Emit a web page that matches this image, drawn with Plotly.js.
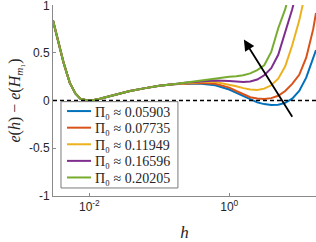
<!DOCTYPE html>
<html>
<head>
<meta charset="utf-8">
<script src="https://cdn.plot.ly/plotly-3.0.1.min.js"></script>
<style>html,body{margin:0;padding:0;background:#fff;}#chart{width:316px;height:242px;}</style>
</head>
<body>
<div id="chart"></div>
<script>
// h values (log-spaced samples)
const h = [0.00302, 0.00339, 0.00380, 0.00427, 0.00479, 0.00525, 0.00631, 0.00741, 0.00912, 0.0112,
           0.0141, 0.0200, 0.0251, 0.0380, 0.0631, 0.1, 0.158, 0.251, 0.398, 0.631,
           1.0, 1.259, 1.585, 1.995, 2.512, 3.162, 3.981, 5.012, 6.310, 7.943,
           10.0, 12.59, 15.85, 17.38];

const common = [0.84, 0.69, 0.545, 0.40, 0.28, 0.185, 0.075, 0.02, 0.002, 0.003,
                0.018, 0.045, 0.065, 0.10, 0.13, 0.155, 0.17];

const eBlue   = common.concat([0.178, 0.175, 0.16, 0.115, 0.08, 0.045, 0.008, -0.02, -0.038, -0.048, -0.045, -0.025, 0.02, 0.10, 0.24, 0.44, 0.53]);
const eOrange = common.concat([0.18, 0.185, 0.175, 0.135, 0.10, 0.07, 0.035, 0.02, 0.015, 0.025, 0.05, 0.10, 0.175, 0.27, 0.45, 0.75, 0.92]);
const eYellow = common.concat([0.185, 0.195, 0.195, 0.17, 0.15, 0.13, 0.115, 0.11, 0.125, 0.16, 0.23, 0.36, 0.58, 0.84, 1.12, 1.5, null]);
const ePurple = common.concat([0.19, 0.20, 0.21, 0.205, 0.20, 0.195, 0.20, 0.22, 0.265, 0.34, 0.48, 0.71, 0.96, 1.25, 1.6, null, null]);
const eGreen  = common.concat([0.19, 0.21, 0.235, 0.25, 0.255, 0.265, 0.285, 0.32, 0.37, 0.51, 0.76, 0.96, 1.25, null, null, null, null]);

const seriesNames = ['Π₀ ≈ 0.05903', 'Π₀ ≈ 0.07735', 'Π₀ ≈ 0.11949', 'Π₀ ≈ 0.16596', 'Π₀ ≈ 0.20205'];
const seriesValues = [eBlue, eOrange, eYellow, ePurple, eGreen];
const colors = ['#0072BD', '#D95319', '#EDB120', '#7E2F8E', '#77AC30'];

const xTickVals = [0.01, 1];
const xTickText = ['10<sup>-2</sup>', '10<sup>0</sup>'];
const yTickVals = [-1, -0.5, 0, 0.5, 1];
const yTickText = ['-1', '-0.5', '0', '0.5', '1'];

// arrow (tail -> head), in data coordinates (h, e)
const arrowTail = [8.2, -0.186];
const arrowHead = [1.62, 0.64];

const traces = seriesValues.map((v, i) => ({
  x: h, y: v, type: 'scatter', mode: 'lines', name: seriesNames[i],
  line: {color: colors[i], width: 2, shape: 'linear'},
  connectgaps: false
}));

const axisColor = '#8a8a8a';
const tickFont = {family: 'Liberation Sans, Arial, sans-serif', size: 12, color: '#262626'};

const layout = {
  width: 316, height: 242,
  margin: {l: 53, r: 0, t: 5, b: 46},
  paper_bgcolor: '#fff', plot_bgcolor: '#fff',
  showlegend: true,
  legend: {
    x: 0.0304, y: 0.497, xanchor: 'left', yanchor: 'top',
    bgcolor: 'rgba(0,0,0,0)', borderwidth: 0,
    font: {family: 'Liberation Serif, DejaVu Serif, serif', size: 14, color: '#262626'},
    tracegroupgap: 0, itemwidth: 30
  },
  xaxis: {
    type: 'log', range: [Math.log10(0.00302), Math.log10(17.38)],
    showgrid: false, zeroline: false,
    showline: true, linecolor: axisColor, linewidth: 1, mirror: false,
    ticks: 'inside', ticklen: 3, tickcolor: axisColor,
    tickvals: xTickVals, ticktext: xTickText, tickfont: tickFont,
    title: {text: '<i>h</i>', font: {family: 'Liberation Serif, DejaVu Serif, serif', size: 17, color: '#262626'}, standoff: 12}
  },
  yaxis: {
    range: [-1.004, 1.004],
    showgrid: false, zeroline: false,
    showline: true, linecolor: axisColor, linewidth: 1, mirror: false,
    ticks: 'inside', ticklen: 3, tickcolor: axisColor,
    tickvals: yTickVals, ticktext: yTickText, tickfont: tickFont,
    ticklabeloverflow: 'allow',
    title: {text: '<i>e</i>(<i>h</i>) − <i>e</i>(<i>H</i><sub><i>m</i>₁</sub>)', font: {family: 'Liberation Serif, DejaVu Serif, serif', size: 16, color: '#262626'}, standoff: 4}
  },
  shapes: [{
    type: 'line', xref: 'paper', x0: 0, x1: 1, yref: 'y', y0: 0, y1: 0,
    line: {color: '#000', width: 1.5, dash: '4px,3px'}, layer: 'above'
  }, {
    // legend frame
    type: 'rect', xref: 'paper', yref: 'paper',
    x0: 0.0304, x1: 0.475, y0: 0.042, y1: 0.494,
    fillcolor: '#ffffff', line: {color: '#7a7a7a', width: 1}, layer: 'above'
  }],
  annotations: [{
    xref: 'x', yref: 'y', axref: 'x', ayref: 'y',
    x: Math.log10(arrowHead[0]), y: arrowHead[1],
    ax: Math.log10(arrowTail[0]), ay: arrowTail[1],
    text: '', showarrow: true, arrowhead: 2, arrowsize: 1.2, arrowwidth: 1.8, arrowcolor: '#000'
  }]
};

// compact the legend rows after drawing (MATLAB-like tight spacing)
function compactLegend(gd) {
  const leg = gd.querySelector('g.legend');
  if (!leg) return;
  const items = leg.querySelectorAll('g.traces');
  const firstY = 10, step = 16.6, textX = 33;
  items.forEach((g, i) => {
    g.setAttribute('transform', 'translate(1,' + (firstY + i * step) + ')');
    const line = g.querySelector('path.js-line');
    if (line) line.setAttribute('d', 'M5,0h24');
    const txt = g.querySelector('text.legendtext');
    if (txt) txt.setAttribute('x', textX);
  });
}

Plotly.newPlot('chart', traces, layout, {displayModeBar: false, staticPlot: true}).then(compactLegend);
</script>
</body>
</html>
